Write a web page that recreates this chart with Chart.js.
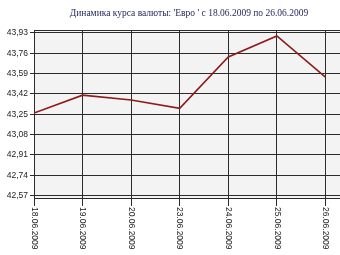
<!DOCTYPE html>
<html>
<head>
<meta charset="utf-8">
<script src="https://cdn.jsdelivr.net/npm/chart.js@4/dist/chart.umd.min.js"></script>
<style>
  html, body { margin: 0; padding: 0; background: #fff; }
  #wrap { width: 340px; height: 255px; position: relative; }
</style>
</head>
<body>
<div id="wrap"><canvas id="chartRate"></canvas></div>
<script>
const titleText = "Динамика курса валюты: 'Евро ' с 18.06.2009 по 26.06.2009";
const dates = ['18.06.2009', '19.06.2009', '20.06.2009', '23.06.2009', '24.06.2009', '25.06.2009', '26.06.2009'];
const rates = [43.26, 43.41, 43.37, 43.30, 43.73, 43.905, 43.56];
const yTicks = [42.57, 42.74, 42.91, 43.08, 43.25, 43.42, 43.59, 43.76, 43.93];

const labelFont = '8.5px "Liberation Sans", Arial, sans-serif';
const gridColor = '#2b2b2b';

const framePlugin = {
  id: 'frame',
  beforeDraw(chart) {
    const { ctx, chartArea } = chart;
    ctx.save();
    ctx.fillStyle = '#f3f3f3';
    ctx.fillRect(chartArea.left, chartArea.top, chartArea.right - chartArea.left, chartArea.bottom - chartArea.top);
    ctx.restore();
  },
  afterDraw(chart) {
    const { ctx, chartArea } = chart;
    const xScale = chart.scales.x;
    ctx.save();
    // top frame line
    ctx.strokeStyle = gridColor;
    ctx.lineWidth = 1;
    ctx.beginPath();
    ctx.moveTo(chartArea.left, chartArea.top + 0.5);
    ctx.lineTo(chartArea.right, chartArea.top + 0.5);
    ctx.stroke();
    // title
    ctx.fillStyle = '#1c2455';
    ctx.font = '9.5px "Liberation Serif", "Times New Roman", serif';
    ctx.textAlign = 'center';
    ctx.textBaseline = 'middle';
    ctx.fillText(titleText, 189, 13);
    // rotated date labels
    ctx.fillStyle = '#222';
    ctx.font = labelFont;
    ctx.textAlign = 'left';
    dates.forEach((d, i) => {
      const x = xScale.getPixelForValue(i);
      ctx.save();
      ctx.translate(x, chartArea.bottom + 9);
      ctx.rotate(Math.PI / 2);
      ctx.fillText(d, 0, 0);
      ctx.restore();
    });
    ctx.restore();
  },
};

const ctx = document.getElementById('chartRate').getContext('2d');
new Chart(ctx, {
  type: 'line',
  data: {
    datasets: [{
      data: rates.map((v, i) => ({ x: i, y: v })),
      borderColor: '#8e1b1b',
      borderWidth: 1.6,
      pointRadius: 0,
      tension: 0,
      fill: false,
    }],
  },
  options: {
    responsive: true,
    maintainAspectRatio: false,
    animation: false,
    layout: { padding: { top: 30, right: 0, left: 0, bottom: 0 } },
    plugins: {
      legend: { display: false },
      title: { display: false },
      tooltip: { enabled: false },
    },
    scales: {
      x: {
        type: 'linear',
        min: 0,
        max: 6.3,
        afterBuildTicks(scale) {
          scale.ticks = dates.map((d, i) => ({ value: i }));
        },
        afterFit(scale) { scale.height = 57; },
        grid: { color: gridColor, lineWidth: 1, tickLength: 8, drawOnChartArea: true },
        border: { color: gridColor, width: 1 },
        ticks: { display: false },
      },
      y: {
        min: 42.55,
        max: 43.955,
        afterBuildTicks(scale) {
          scale.ticks = yTicks.map(v => ({ value: v }));
        },
        afterFit(scale) { scale.width = 34; },
        grid: { color: gridColor, lineWidth: 1, tickLength: 4 },
        border: { color: gridColor, width: 1 },
        ticks: {
          color: '#222',
          font: { family: '"Liberation Sans", Arial, sans-serif', size: 8.5 },
          padding: 2,
          callback: v => v.toFixed(2).replace('.', ','),
        },
      },
    },
  },
  plugins: [framePlugin],
});
</script>
</body>
</html>
